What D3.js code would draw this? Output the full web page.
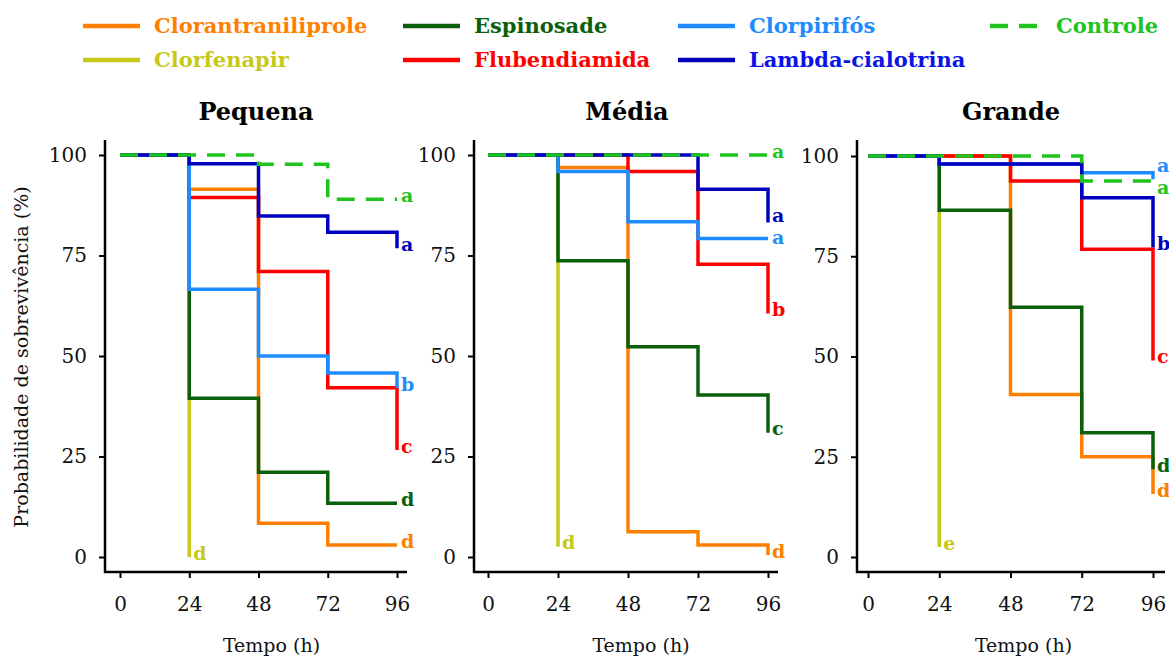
<!DOCTYPE html>
<html>
<head>
<meta charset="utf-8">
<script src="https://cdn.jsdelivr.net/npm/d3@7"></script>
<style>
  html, body { margin: 0; padding: 0; background: #fff; }
  svg { display: block; }
</style>
</head>
<body>
<svg id="chart" width="1169" height="657"></svg>
<script>
// ---------------- DATA ----------------
const times = [0, 24, 48, 72, 96];
const xTicks = [0, 24, 48, 72, 96];
const yTicks = [0, 25, 50, 75, 100];
const panelTitles = ["Pequena", "Média", "Grande"];
const seriesNames = ["Clorantraniliprole", "Espinosade", "Clorpirifós", "Controle",
                     "Clorfenapir", "Flubendiamida", "Lambda-cialotrina"];
const seriesColors = ["#FF8000", "#0A5F0A", "#1E8CFF", "#1EC31E",
                      "#C8C819", "#FF0000", "#0000BE"];
const legendTextColors = ["#FF8000", "#0A5F0A", "#1E8CFF", "#1EC31E",
                          "#C8C819", "#FF0000", "#0A14E6"];

// survival (%) at times 0,24,48,72,96 — one array per treatment per panel
const pequenaClorantraniliprole = [100, 91.5, 8.4, 3, 3];
const pequenaEspinosade        = [100, 39.5, 21.1, 13.4, 13.4];
const pequenaClorpirifos       = [100, 66.6, 50, 45.8, 42];
const pequenaControle          = [100, 100, 97.7, 89, 89];
const pequenaClorfenapir       = [100, 0];
const pequenaFlubendiamida     = [100, 89.4, 71, 42.1, 26.6];
const pequenaLambda            = [100, 97.8, 84.8, 80.8, 76.8];
const pequenaLetters = ["d", "d", "b", "a", "d", "c", "a"];

const mediaClorantraniliprole = [100, 96.9, 6.3, 3, 0.5];
const mediaEspinosade        = [100, 73.7, 52.3, 40.3, 30.9];
const mediaClorpirifos       = [100, 95.9, 83.4, 79.2, 79.2];
const mediaControle          = [100, 100, 100, 100, 100];
const mediaClorfenapir       = [100, 2.6];
const mediaFlubendiamida     = [100, 100, 95.9, 72.8, 60.6];
const mediaLambda            = [100, 100, 100, 91.5, 83.2];
const mediaLetters = ["d", "c", "a", "a", "d", "b", "a"];

const grandeClorantraniliprole = [100, 100, 40.5, 25, 15.7];
const grandeEspinosade        = [100, 86.5, 62.3, 31, 21.9];
const grandeClorpirifos       = [100, 98, 98, 95.8, 94.2];
const grandeControle          = [100, 100, 100, 93.75, 93.75];
const grandeClorfenapir       = [100, 2.5];
const grandeFlubendiamida     = [100, 100, 93.75, 76.75, 49];
const grandeLambda            = [100, 98, 98, 89.6, 77.2];
const grandeLetters = ["d", "d", "a", "a", "e", "c", "b"];

const panelData = [
  [pequenaClorantraniliprole, pequenaEspinosade, pequenaClorpirifos, pequenaControle,
   pequenaClorfenapir, pequenaFlubendiamida, pequenaLambda],
  [mediaClorantraniliprole, mediaEspinosade, mediaClorpirifos, mediaControle,
   mediaClorfenapir, mediaFlubendiamida, mediaLambda],
  [grandeClorantraniliprole, grandeEspinosade, grandeClorpirifos, grandeControle,
   grandeClorfenapir, grandeFlubendiamida, grandeLambda]
];
const panelLetters = [pequenaLetters, mediaLetters, grandeLetters];

// ---------------- LAYOUT ----------------
const FONT = "'DejaVu Serif', 'Liberation Serif', serif";
const panelsLayout = [
  { x0: 120, x1: 397, yTop: 155, yBot: 557, axisX: 105, axisRight: 407, titleX: 256 },
  { x0: 488, x1: 768, yTop: 155, yBot: 557, axisX: 474, axisRight: 778, titleX: 627 },
  { x0: 868, x1: 1153, yTop: 156, yBot: 557, axisX: 857, axisRight: 1165, titleX: 1011 }
];
const axisTop = 140, axisY = 572;
// drawing order (bottom -> top)
const drawOrder = [4, 0, 1, 5, 2, 6, 3];

const svg = d3.select("#chart");
svg.append("rect").attr("width", 1169).attr("height", 657).attr("fill", "#fff");

panelsLayout.forEach((L, pi) => {
  const x = d3.scaleLinear().domain([0, 96]).range([L.x0, L.x1]);
  const y = d3.scaleLinear().domain([0, 100]).range([L.yBot, L.yTop]);
  const g = svg.append("g");

  // axes
  const ya = g.append("g").attr("transform", `translate(${L.axisX},0)`)
    .call(d3.axisLeft(y).tickValues(yTicks).tickSize(6).tickPadding(12).tickSizeOuter(0));
  ya.select(".domain").remove();
  const xa = g.append("g").attr("transform", `translate(0,${axisY})`)
    .call(d3.axisBottom(x).tickValues(xTicks).tickSize(6).tickPadding(19).tickSizeOuter(0));
  xa.select(".domain").remove();
  [ya, xa].forEach(a => {
    a.selectAll("line").attr("stroke", "#000").attr("stroke-width", 2);
    a.selectAll("text").attr("font-family", FONT).attr("font-size", 20).attr("fill", "#111");
  });
  g.append("line").attr("x1", L.axisX).attr("x2", L.axisX).attr("y1", axisTop).attr("y2", axisY + 1)
    .attr("stroke", "#000").attr("stroke-width", 2.5);
  g.append("line").attr("x1", L.axisX - 1).attr("x2", L.axisRight).attr("y1", axisY).attr("y2", axisY)
    .attr("stroke", "#000").attr("stroke-width", 2.5);

  // title
  g.append("text").attr("x", L.titleX).attr("y", 120).attr("text-anchor", "middle")
    .attr("font-family", FONT).attr("font-weight", "bold").attr("font-size", 24)
    .attr("fill", "#000").text(panelTitles[pi]);
  // x label
  g.append("text").attr("x", (L.x0 + L.x1) / 2 + 13).attr("y", 652).attr("text-anchor", "middle")
    .attr("font-family", FONT).attr("font-size", 19).attr("fill", "#111").text("Tempo (h)");

  const line = d3.line().x(d => x(d[0])).y(d => y(d[1])).curve(d3.curveStepAfter);

  drawOrder.forEach(si => {
    const vals = panelData[pi][si];
    const pts = vals.map((v, i) => [times[i], v]);
    g.append("path").attr("d", line(pts)).attr("fill", "none")
      .attr("stroke", seriesColors[si]).attr("stroke-width", 3.5)
      .attr("stroke-linejoin", "miter").attr("stroke-linecap", "butt")
      .attr("stroke-dasharray", seriesNames[si] === "Controle" ? "18,11" : null);
  });

  // letters at line ends, with simple collision avoidance
  const labels = panelData[pi].map((vals, si) => ({
    si, t: times[vals.length - 1], yy: y(vals[vals.length - 1]) - 4, letter: panelLetters[pi][si]
  }));
  const groups = d3.groups(labels, d => d.t);
  const minGap = 22.5;
  groups.forEach(([t, arr]) => {
    arr.sort((a, b) => a.yy - b.yy);
    for (let iter = 0; iter < 20; iter++) {
      for (let i = 1; i < arr.length; i++) {
        const gap = arr[i].yy - arr[i - 1].yy;
        if (gap < minGap) {
          const d = (minGap - gap) / 2;
          arr[i].yy += d; arr[i - 1].yy -= d;
        }
      }
    }
  });
  labels.forEach(l => {
    g.append("text").attr("x", x(l.t) + 4).attr("y", l.yy).attr("dy", "0.35em")
      .attr("font-family", FONT).attr("font-weight", "bold").attr("font-size", 19)
      .attr("fill", seriesColors[l.si]).text(l.letter);
  });
});

// y-axis title
svg.append("text").attr("transform", "translate(28,357) rotate(-90)").attr("text-anchor", "middle")
  .attr("font-family", FONT).attr("font-size", 19).attr("fill", "#111")
  .text("Probabilidade de sobrevivência (%)");

// legend
const legendPos = [[83, 26], [403, 26], [678, 26], [990, 26], [83, 60], [403, 60], [678, 60]];
seriesNames.forEach((name, i) => {
  const [lx, ly] = legendPos[i];
  const isDash = name === "Controle";
  svg.append("line").attr("x1", lx).attr("x2", lx + (isDash ? 47 : 57)).attr("y1", ly).attr("y2", ly)
    .attr("stroke", seriesColors[i]).attr("stroke-width", 4.5)
    .attr("stroke-dasharray", isDash ? "18,11" : null);
  svg.append("text").attr("x", lx + (isDash ? 66 : 71)).attr("y", ly).attr("dy", "0.35em")
    .attr("font-family", FONT).attr("font-weight", "bold").attr("font-size", 21)
    .attr("fill", legendTextColors[i]).text(name);
});
</script>
</body>
</html>
